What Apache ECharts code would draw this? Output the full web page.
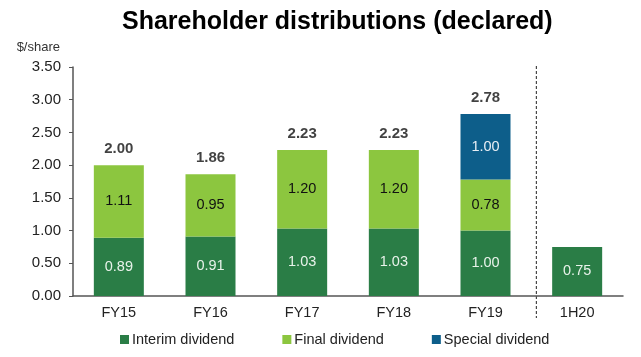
<!DOCTYPE html>
<html><head><meta charset="utf-8">
<script src="https://cdn.jsdelivr.net/npm/echarts@6/dist/echarts.min.js"></script>
<style>html,body{margin:0;padding:0;background:#fff}#c{width:641px;height:357px}</style>
</head><body><div id="c"></div>
<script>
const categories = ['FY15','FY16','FY17','FY18','FY19','1H20'];
const interim = [0.89, 0.91, 1.03, 1.03, 1.00, 0.75];
const finalDiv = [1.11, 0.95, 1.20, 1.20, 0.78, null];
const special = [null, null, null, null, 1.00, null];
const totals = [2.00, 1.86, 2.23, 2.23, 2.78, null];
const yTicks = { min: 0, max: 3.5, interval: 0.5 };

const FONT = '"Liberation Sans", Arial, sans-serif';
const chart = echarts.init(document.getElementById('c'), null, {renderer:'canvas'});
const gridLeft = 73, gridRight = 18, gridTop = 67, gridBottom = 61;
const gridW = 641 - gridLeft - gridRight;
const sepX = gridLeft + gridW * 5 / 6 + 5;

const fmt = p => (p.value == null ? '' : Number(p.value).toFixed(2));

chart.setOption({
  animation: false,
  textStyle: { fontFamily: FONT },
  title: {
    text: 'Shareholder distributions (declared)',
    left: 117, top: 5,
    textStyle: { fontFamily: FONT, fontSize: 25, fontWeight: 'bold', color: '#000' }
  },
  legend: {
    data: ['Interim dividend', 'Final dividend', 'Special dividend'],
    bottom: 5, left: 115,
    icon: 'rect', itemWidth: 9, itemHeight: 9, itemGap: 48,
    textStyle: { fontFamily: FONT, fontSize: 14.5, color: '#222', padding: [0,0,0,-2] }
  },
  grid: { left: gridLeft, right: gridRight, top: gridTop, bottom: gridBottom, containLabel: false },
  xAxis: {
    type: 'category', data: categories,
    axisLine: { lineStyle: { color: '#555', width: 1.5 } },
    axisTick: { show: false },
    axisLabel: { fontFamily: FONT, fontSize: 14.5, color: '#222', margin: 9 }
  },
  yAxis: {
    type: 'value', min: yTicks.min, max: yTicks.max, interval: yTicks.interval,
    name: '$/share', nameLocation: 'end', nameGap: 13,
    nameTextStyle: { fontFamily: FONT, fontSize: 13, color: '#333', align: 'right', padding: [0, 13, 0, 0] },
    splitLine: { show: false },
    axisLine: { show: true, lineStyle: { color: '#555', width: 1.5 } },
    axisTick: { show: true, length: 4, lineStyle: { color: '#555' } },
    axisLabel: { fontFamily: FONT, fontSize: 15, color: '#222', margin: 12, formatter: v => v.toFixed(2) }
  },
  series: [
    { name: 'Interim dividend', type: 'bar', stack: 'd', data: interim, barWidth: 50,
      itemStyle: { color: '#2a7d46' },
      label: { show: true, position: 'inside', formatter: fmt, fontFamily: FONT, fontSize: 14.5, color: '#e8f2ea' } },
    { name: 'Final dividend', type: 'bar', stack: 'd', data: finalDiv, barWidth: 50,
      itemStyle: { color: '#8cc63f' },
      label: { show: true, position: 'inside', formatter: fmt, fontFamily: FONT, fontSize: 14.5, color: '#111' } },
    { name: 'Special dividend', type: 'bar', stack: 'd', data: special, barWidth: 50,
      itemStyle: { color: '#0d5e8a' },
      label: { show: true, position: 'inside', formatter: fmt, fontFamily: FONT, fontSize: 14.5, color: '#e8eef4' } },
    { name: 'Total', type: 'scatter', data: totals, symbolSize: 0, silent: true,
      label: { show: true, position: 'top', distance: 9, formatter: fmt, fontFamily: FONT, fontSize: 15, fontWeight: 'bold', color: '#111' } }
  ],
  graphic: [
    { type: 'line', shape: { x1: sepX, y1: 66, x2: sepX, y2: 318 },
      style: { stroke: '#222', lineWidth: 1, lineDash: [3, 2] } }
  ]
});
</script></body></html>
